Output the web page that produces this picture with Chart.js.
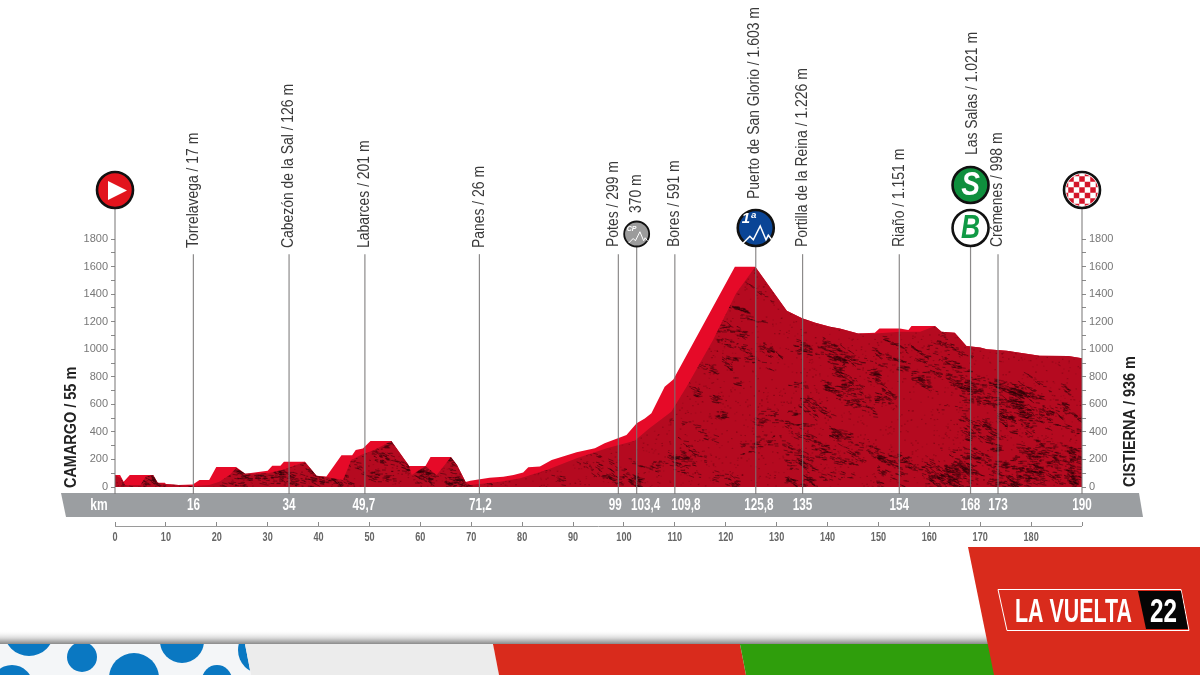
<!DOCTYPE html>
<html>
<head>
<meta charset="utf-8">
<title>La Vuelta 22 - perfil</title>
<script src="https://cdn.jsdelivr.net/npm/chart.js@4"></script>
<style>
html, body { margin: 0; padding: 0; background: #fff; }
canvas { display: block; }
</style>
</head>
<body>
<canvas id="perfil" width="1200" height="675"></canvas>
<script>
'use strict';

// Perfil (km / metros)
const backKm = [0, 1, 1.7, 2.9, 7.5, 8.4, 9.8, 10, 12.4, 15.3, 16.6, 18.5, 19.9, 23.8, 25.6, 30, 30.9, 32.5, 33.2, 37.3, 39.6, 41.5, 44.5, 46.6, 47.3, 48.7, 50.2, 54.3, 57.8, 61, 62, 66, 67.2, 68.9, 69.8, 73.6, 76.3, 78.3, 80.2, 81.2, 83.5, 85.8, 90.7, 94.3, 96.2, 100.5, 102.5, 104.1, 105.4, 108, 109.7, 121.8, 125.8, 132, 135, 137.6, 140.5, 142.4, 146, 149.3, 150.2, 154.2, 155.9, 156.5, 161.1, 162.4, 165, 167.3, 170, 171.3, 175.2, 177.8, 181.7, 187.3, 190];
const backAlt = [87, 87, 39, 87, 87, 31, 31, 22, 15, 19, 50, 50, 145, 145, 97, 118, 155, 155, 184, 184, 82, 75, 230, 230, 268, 280, 334, 334, 152, 152, 218, 218, 160, 36, 46, 68, 75, 87, 106, 143, 148, 196, 252, 281, 317, 377, 462, 498, 535, 728, 781, 1599, 1599, 1280, 1224, 1193, 1163, 1151, 1115, 1120, 1151, 1151, 1139, 1168, 1168, 1127, 1120, 1023, 1013, 999, 989, 975, 953, 951, 934];
const frontKm = [0, 1.2, 2, 5, 6, 7.5, 8.4, 9.8, 15.3, 18.5, 20.5, 22.5, 23.8, 25.6, 30, 33, 35.2, 37.3, 39.6, 41.5, 42.8, 44.8, 46.4, 48.3, 50.9, 54.3, 57.8, 58.3, 61, 63.2, 66, 67.2, 68.9, 69.8, 75.6, 79.6, 84.8, 90.7, 96.6, 102.1, 105, 109.3, 112.3, 117.5, 122, 125.8, 132, 135, 137.6, 140.5, 142.4, 146, 149.3, 154.2, 155.9, 158.2, 161.1, 162.4, 165, 167.3, 170, 171.3, 175.2, 177.8, 181.7, 187.3, 190];
const frontAlt = [87, 63, 15, 15, 75, 87, 31, 22, 7, 15, 39, 87, 138, 97, 100, 125, 155, 184, 82, 75, 63, 51, 196, 232, 268, 334, 152, 87, 152, 87, 218, 160, 36, 15, 39, 63, 123, 208, 281, 336, 426, 547, 728, 1067, 1405, 1599, 1280, 1224, 1193, 1163, 1151, 1115, 1115, 1127, 1127, 1127, 1168, 1127, 1120, 1023, 1013, 999, 989, 975, 953, 951, 934];

// Ejes
const kmTicks = [0, 10, 20, 30, 40, 50, 60, 70, 80, 90, 100, 110, 120, 130, 140, 150, 160, 170, 180, 190];
const altTicks = [0, 100, 200, 300, 400, 500, 600, 700, 800, 900, 1000, 1100, 1200, 1300, 1400, 1500, 1600, 1700, 1800];

// Puntos de paso: posicion en el dibujo, texto de la banda gris, nombre, altura de la vara
const markKm = [0, 15.4, 34.2, 49.1, 71.6, 98.9, 102.5, 110, 125.9, 135.1, 154.1, 168.1, 173.5, 190];
const markBand = ['', '16', '34', '49,7', '71,2', '99', '103,4', '109,8', '125,8', '135', '154', '168', '173', '190'];
const bandShift = [0, 0, 0, -1, 1, -3, 9, 11, 3, 0, 0, 0, 0, 0];
const markName = ['', 'Torrelavega / 17 m', 'Cabezón de la Sal / 126 m', 'Labarces / 201 m', 'Panes / 26 m', 'Potes / 299 m', '370 m', 'Bores / 591 m', 'Puerto de San Glorio / 1.603 m', 'Portilla de la Reina / 1.226 m', 'Riaño / 1.151 m', 'Las Salas / 1.021 m', 'Crémenes / 998 m', ''];
const markTop = [2018, 1690, 1690, 1690, 1690, 1690, 1742, 1690, 1742, 1690, 1690, 1742, 1690, 2018];
const markBottom = [-50, -50, -50, -50, -50, -50, -50, -50, -50, -50, -50, -50, -50, -50];
const nameBase = [0, 248, 248, 248, 248, 247, 213, 247, 199, 247, 247, 155, 247, 0];
const nameShift = [0, 0, 0, 0, 0, -5, 0, 0, -1, 0, 0, 2, 0, 0];

const toPoints = (xs, ys) => xs.map((x, i) => ({ x: x, y: ys[i] }));

const SANS = '"Liberation Sans", sans-serif';

// No hay fuente estrecha: se comprime el ancho con maxWidth
let texto = (ctx, t, x, y, k) => {
    ctx.fillText(t, x, y, ctx.measureText(t).width * k);
};

// Textura de la cara oscura del perfil
let crearTextura = () => {
    const c = document.createElement('canvas');
    c.width = 1200;
    c.height = 500;
    const g = c.getContext('2d');
    g.fillStyle = '#b50a20';
    g.fillRect(0, 0, c.width, c.height);
    let semilla = 12345;
    const sig = () => {
        semilla = (semilla * 1103515245 + 12345) % 2147483648;
        return semilla / 2147483648;
    };
    // grano fino
    g.fillStyle = 'rgba(70,4,10,0.18)';
    for (let i = 0; i < 14000; i++) {
        g.fillRect(sig() * 1200, 230 + sig() * 260, 1.4, 1);
    }
    // zonas: x, y, ancho, alto, manchas
    const zonas = [
        [115, 440, 370, 47, 130], [480, 450, 200, 37, 18], [680, 290, 120, 197, 40],
        [790, 340, 100, 147, 55], [885, 340, 80, 50, 18], [880, 450, 90, 37, 22],
        [950, 380, 133, 107, 75], [1000, 440, 83, 47, 25]
    ];
    g.strokeStyle = 'rgba(40,3,7,0.6)';
    g.lineWidth = 0.8;
    zonas.forEach(z => {
        for (let i = 0; i < z[4]; i++) {
            const cx = z[0] + sig() * z[2];
            const cy = z[1] + sig() * z[3];
            const ancho = 8 + sig() * 26;
            const alto = 3 + sig() * 11;
            const caida = sig() * 0.9;
            const n = 8 + Math.floor(sig() * 20);
            for (let j = 0; j < n; j++) {
                const t = sig() - 0.5;
                const x = cx + t * ancho;
                const y = cy + t * ancho * caida + (sig() - 0.5) * alto;
                const l = 1.5 + sig() * 4;
                g.beginPath();
                g.moveTo(x, y);
                g.lineTo(x + l, y + l * caida * sig());
                g.stroke();
            }
        }
    });
    return g.createPattern(c, 'no-repeat');
};

let poligono = (ctx, pts, color) => {
    ctx.beginPath();
    pts.forEach((p, i) => i ? ctx.lineTo(p[0], p[1]) : ctx.moveTo(p[0], p[1]));
    ctx.closePath();
    ctx.fillStyle = color;
    ctx.fill();
};

let circulo = (ctx, x, y, r, fondo, borde) => {
    ctx.beginPath();
    ctx.arc(x, y, r, 0, Math.PI * 2);
    ctx.fillStyle = fondo;
    ctx.fill();
    ctx.lineWidth = borde;
    ctx.strokeStyle = '#111';
    ctx.stroke();
};

let montana = (ctx, x, y, k, color, ancho) => {
    const pts = [[-12, 8], [-6, 2], [-3, 5], [3, -7], [8, 5], [10, 1], [13, 5]];
    ctx.beginPath();
    pts.forEach((p, i) => i ? ctx.lineTo(x + p[0] * k, y + p[1] * k) : ctx.moveTo(x + p[0] * k, y + p[1] * k));
    ctx.strokeStyle = color;
    ctx.lineWidth = ancho;
    ctx.stroke();
};

// Franja inferior y logo
const fondoPlugin = {
    id: 'fondo',
    beforeDraw(chart) {
        const ctx = chart.ctx;
        ctx.save();
        ctx.fillStyle = '#fff';
        ctx.fillRect(0, 0, 1200, 675);

        const sombra = ctx.createLinearGradient(0, 630, 0, 645);
        sombra.addColorStop(0, 'rgba(255,255,255,0)');
        sombra.addColorStop(0.55, 'rgba(215,215,215,1)');
        sombra.addColorStop(1, 'rgba(125,125,125,1)');
        ctx.fillStyle = sombra;
        ctx.fillRect(0, 630, 1000, 15);

        poligono(ctx, [[0, 644], [245, 644], [251, 675], [0, 675]], '#f4f6f8');
        ctx.save();
        ctx.beginPath();
        ctx.moveTo(0, 644);
        ctx.lineTo(245, 644);
        ctx.lineTo(251, 675);
        ctx.lineTo(0, 675);
        ctx.closePath();
        ctx.clip();
        ctx.fillStyle = '#0a78c2';
        [[29, 631, 25], [82, 657, 15], [134, 678, 25], [182, 641, 22], [217, 680, 15], [262, 650, 24], [12, 686, 21]].forEach(d => {
            ctx.beginPath();
            ctx.arc(d[0], d[1], d[2], 0, Math.PI * 2);
            ctx.fill();
        });
        ctx.restore();

        poligono(ctx, [[245, 644], [493, 644], [499, 675], [251, 675]], '#ececec');
        poligono(ctx, [[493, 644], [740, 644], [746, 675], [499, 675]], '#d92b1c');
        poligono(ctx, [[740, 644], [995, 644], [995, 675], [746, 675]], '#2f9e0c');
        poligono(ctx, [[968, 547], [1200, 547], [1200, 675], [994, 675]], '#d92b1c');

        ctx.beginPath();
        ctx.moveTo(998, 589.5);
        ctx.lineTo(1181, 589.5);
        ctx.lineTo(1189, 630.5);
        ctx.lineTo(1007, 630.5);
        ctx.closePath();
        ctx.strokeStyle = '#fff';
        ctx.lineWidth = 1;
        ctx.stroke();
        poligono(ctx, [[1138, 591], [1181, 591], [1188, 629], [1146, 629]], '#050505');

        ctx.fillStyle = '#fff';
        ctx.textBaseline = 'alphabetic';
        ctx.textAlign = 'left';
        ctx.font = 'bold 34px ' + SANS;
        ctx.fillText('LA VUELTA', 1015, 622, 117);
        ctx.fillText('22', 1150, 622, 27);
        ctx.restore();
    }
};

// Banda gris, linea de km
const bandaPlugin = {
    id: 'banda',
    beforeDatasetsDraw(chart) {
        const ctx = chart.ctx;
        const x = chart.scales.x;
        ctx.save();
        poligono(ctx, [[61, 493], [1139, 493], [1143, 517], [66, 517]], '#9b9ea1');
        ctx.strokeStyle = '#9a9a9a';
        ctx.lineWidth = 1;
        ctx.beginPath();
        ctx.moveTo(x.getPixelForValue(0), 526.5);
        ctx.lineTo(x.getPixelForValue(190), 526.5);
        ctx.stroke();
        ctx.restore();
    },
    afterDatasetsDraw(chart) {
        const ctx = chart.ctx;
        const x = chart.scales.x;
        ctx.save();
        ctx.textBaseline = 'middle';
        ctx.textAlign = 'center';

        // etiquetas del eje de km
        ctx.fillStyle = '#666';
        ctx.font = 'bold 13px ' + SANS;
        x.ticks.forEach(t => {
            if (t.label) texto(ctx, t.label, x.getPixelForValue(t.value), 537, 0.7);
        });

        ctx.fillStyle = '#fff';
        ctx.font = 'bold 16px ' + SANS;
        texto(ctx, 'km', 99, 505.5, 0.75);
        markBand.forEach((t, i) => {
            if (t) texto(ctx, t, x.getPixelForValue(markKm[i]) + bandShift[i], 505.5, 0.73);
        });

        // nombres de los puntos de paso
        ctx.fillStyle = '#3a3a3a';
        ctx.font = '16px ' + SANS;
        ctx.textAlign = 'left';
        markName.forEach((t, i) => {
            if (!t) return;
            ctx.save();
            ctx.translate(x.getPixelForValue(markKm[i]) + nameShift[i], nameBase[i]);
            ctx.rotate(-Math.PI / 2);
            texto(ctx, t, 0, 0, 0.87);
            ctx.restore();
        });

        // salida y llegada
        ctx.fillStyle = '#222';
        ctx.font = 'bold 17px ' + SANS;
        [['CAMARGO / 55 m', 71, 488], ['CISTIERNA / 936 m', 1130, 487]].forEach(t => {
            ctx.save();
            ctx.translate(t[1], t[2]);
            ctx.rotate(-Math.PI / 2);
            texto(ctx, t[0], 0, 0, 0.85);
            ctx.restore();
        });

        dibujarIconos(ctx, x);
        ctx.restore();
    }
};

let dibujarIconos = (ctx, x) => {
    // salida
    const xs = x.getPixelForValue(0);
    circulo(ctx, xs, 190, 18, '#e2141d', 2.6);
    poligono(ctx, [[xs - 7, 181], [xs + 12, 190.5], [xs - 7, 200]], '#fff');

    // llegada
    const xl = x.getPixelForValue(190);
    circulo(ctx, xl, 190, 18, '#fff', 2.6);
    ctx.save();
    ctx.beginPath();
    ctx.arc(xl, 190, 16, 0, Math.PI * 2);
    ctx.clip();
    ctx.fillStyle = '#d3152a';
    for (let f = 0; f < 7; f++) {
        for (let c = 0; c < 7; c++) {
            if ((f + c) % 2 === 0) ctx.fillRect(xl - 19.25 + c * 5.5, 170.75 + f * 5.5, 5.5, 5.5);
        }
    }
    ctx.restore();

    // metas: sprint y bonificacion
    const xm = x.getPixelForValue(168.1);
    circulo(ctx, xm, 185, 18, '#0f8f3d', 2.6);
    circulo(ctx, xm, 228, 18, '#fff', 2.6);
    ctx.textAlign = 'center';
    ctx.textBaseline = 'middle';
    ctx.font = 'italic bold 33px ' + SANS;
    ctx.fillStyle = '#fff';
    texto(ctx, 'S', xm, 186, 0.85);
    ctx.fillStyle = '#109a45';
    texto(ctx, 'B', xm, 229, 0.8);

    // puerto de primera
    const xp = x.getPixelForValue(125.9);
    circulo(ctx, xp, 228, 18, '#0a4596', 2.6);
    ctx.fillStyle = '#fff';
    ctx.font = 'italic bold 15px ' + SANS;
    ctx.fillText('1ª', xp - 7, 219);
    montana(ctx, xp + 1, 234, 1.15, '#fff', 1.5);

    // paso con sprint especial
    const xc = x.getPixelForValue(102.5);
    circulo(ctx, xc, 234, 12.5, '#9b9b9b', 1.8);
    ctx.fillStyle = '#fff';
    ctx.font = 'italic bold 7px ' + SANS;
    ctx.fillText('CP', xc - 5, 229);
    montana(ctx, xc + 1, 237, 0.75, '#fff', 1);
};

const datasets = [{
    label: 'cara',
    data: toPoints(frontKm, frontAlt),
    backgroundColor: crearTextura(),
    borderWidth: 0,
    pointRadius: 0,
    tension: 0,
    fill: 'origin',
    order: 2
}, {
    label: 'perfil',
    data: toPoints(backKm, backAlt),
    backgroundColor: '#e60a28',
    borderWidth: 0,
    pointRadius: 0,
    tension: 0,
    fill: 'origin',
    order: 3
}];

markKm.forEach((km, i) => {
    datasets.push({
        label: 'paso' + i,
        data: [{ x: km, y: markBottom[i] }, { x: km, y: markTop[i] }],
        borderColor: 'rgba(120,118,118,0.85)',
        borderWidth: 1.2,
        pointRadius: 0,
        fill: false,
        clip: false,
        order: 1
    });
});

const ejeAlt = {
    type: 'linear',
    min: -254,
    max: 1800,
    grid: { drawOnChartArea: false, tickLength: 4, tickColor: '#8a8a8a', lineWidth: 1 },
    border: { display: false },
    afterBuildTicks: s => { s.ticks = altTicks.map(v => ({ value: v })); },
    ticks: {
        autoSkip: false,
        padding: 3,
        color: '#777',
        font: { family: 'Liberation Sans', size: 11 },
        callback: v => (v % 200 === 0 ? String(v) : '')
    }
};

new Chart(document.getElementById('perfil'), {
    type: 'line',
    data: { datasets: datasets },
    plugins: [fondoPlugin, bandaPlugin],
    options: {
        responsive: false,
        animation: false,
        events: [],
        layout: { padding: { left: 65, right: 68, top: 239, bottom: 123 } },
        plugins: { legend: { display: false }, tooltip: { enabled: false }, title: { display: false } },
        scales: {
            x: {
                type: 'linear',
                min: 0,
                max: 190,
                position: 'bottom',
                grid: { drawOnChartArea: false, tickLength: 4, tickColor: '#8a8a8a' },
                border: { display: false },
                afterBuildTicks: s => { s.ticks = kmTicks.map(v => ({ value: v })); },
                afterFit: s => { s.height = 30; },
                ticks: {
                    display: false,
                    autoSkip: false,
                    maxRotation: 0,
                    minRotation: 0,
                    callback: v => (v === 190 ? '' : String(v))
                }
            },
            y: Object.assign({}, ejeAlt, { position: 'left', afterFit: s => { s.width = 50; } }),
            y2: Object.assign({}, ejeAlt, { position: 'right', afterFit: s => { s.width = 50; } })
        }
    }
});
</script>
</body>
</html>
